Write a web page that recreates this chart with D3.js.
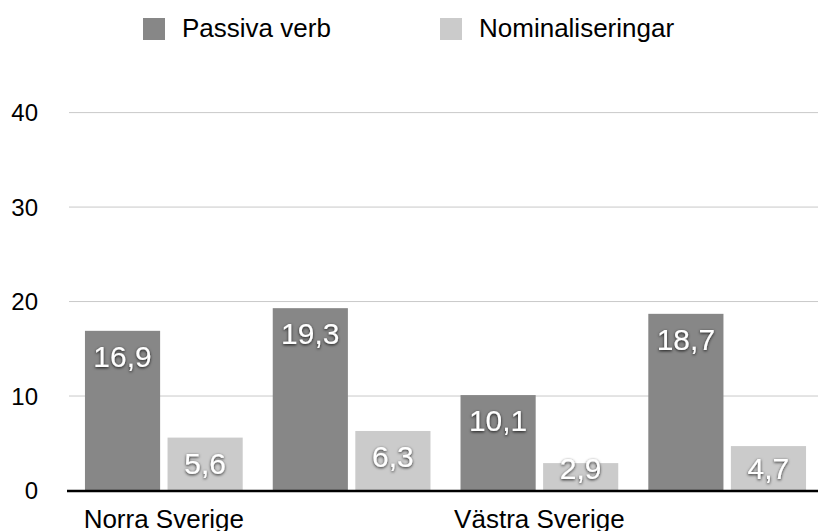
<!DOCTYPE html>
<html>
<head>
<meta charset="utf-8">
<script src="https://cdn.jsdelivr.net/npm/d3@7"></script>
<style>
  body { margin: 0; background: #fff; }
  text { font-family: "Liberation Sans", Arial, Helvetica, sans-serif; }
</style>
</head>
<body>
<script>
var categories = ["Norra Sverige", "Norra Sverige 2", "Västra Sverige", "Västra Sverige 2"];
var tickLabels = ["Norra Sverige", "", "Västra Sverige", ""];
var seriesNames = ["Passiva verb", "Nominaliseringar"];
var passivaVerb = [16.9, 19.3, 10.1, 18.7];
var nominaliseringar = [5.6, 6.3, 2.9, 4.7];
var yTicks = [0, 10, 20, 30, 40];

var width = 818, height = 531;
var colors = ["#878787", "#cbcbcb"];

var svg = d3.select("body").append("svg")
	.attr("width", width)
	.attr("height", height);

var defs = svg.append("defs");
var shadow = defs.append("filter")
	.attr("id", "shadow")
	.attr("x", "-20%").attr("y", "-30%")
	.attr("width", "140%").attr("height", "160%");
shadow.append("feDropShadow")
	.attr("dx", 0).attr("dy", 1)
	.attr("stdDeviation", 1.4)
	.attr("flood-color", "#000")
	.attr("flood-opacity", 0.85);

var y = d3.scaleLinear().domain([0, 40]).range([490.5, 112.6]);
var x = d3.scaleBand().domain(categories).range([69, 822])
	.paddingInner(0.16).paddingOuter(0.085);
var xs = d3.scaleBand().domain([0, 1]).range([0, x.bandwidth()]).paddingInner(0.09);

// gridlines
svg.append("g").selectAll("line")
	.data(yTicks.filter(function(d) { return d > 0; }))
	.enter().append("line")
	.attr("x1", 69).attr("x2", width)
	.attr("y1", function(d) { return y(d); })
	.attr("y2", function(d) { return y(d); })
	.style("stroke", "#c9c9c9")
	.style("stroke-width", 1);

// y axis labels
svg.append("g").selectAll("text")
	.data(yTicks)
	.enter().append("text")
	.attr("x", 38)
	.attr("y", function(d) { return y(d); })
	.attr("dy", "0.36em")
	.attr("text-anchor", "end")
	.style("font-size", "24px")
	.attr("fill", "#000")
	.text(function(d) { return d; });

// bars
var rows = categories.map(function(c, i) {
	return {cat: c, values: [passivaVerb[i], nominaliseringar[i]]};
});

var groups = svg.append("g").selectAll("g")
	.data(rows)
	.enter().append("g")
	.attr("transform", function(d) { return "translate(" + x(d.cat) + ",0)"; });

groups.selectAll("rect")
	.data(function(d) { return d.values; })
	.enter().append("rect")
	.attr("x", function(d, i) { return xs(i); })
	.attr("y", function(d) { return y(d); })
	.attr("width", xs.bandwidth())
	.attr("height", function(d) { return y(0) - y(d); })
	.attr("fill", function(d, i) { return colors[i]; });

groups.selectAll("text")
	.data(function(d) { return d.values; })
	.enter().append("text")
	.attr("x", function(d, i) { return xs(i) + xs.bandwidth() / 2; })
	.attr("y", function(d) { return Math.min(y(d) + 36, y(0) - 12); })
	.attr("text-anchor", "middle")
	.attr("fill", "#fff")
	.attr("filter", "url(#shadow)")
	.style("font-size", "30px")
	.text(function(d) { return String(d).replace(".", ","); });

// x axis line
svg.append("line")
	.attr("x1", 67).attr("x2", width)
	.attr("y1", y(0) + 0.5).attr("y2", y(0) + 0.5)
	.style("stroke", "#000")
	.style("stroke-width", 2.5);

// x labels
svg.append("g").selectAll("text")
	.data(categories)
	.enter().append("text")
	.attr("x", function(d) { return x(d) + x.bandwidth() / 2; })
	.attr("y", 528)
	.attr("text-anchor", "middle")
	.style("font-size", "26px")
	.attr("fill", "#000")
	.text(function(d, i) { return tickLabels[i]; });

// legend
var legendX = [143, 440];
var legend = svg.append("g").selectAll("g")
	.data(seriesNames)
	.enter().append("g")
	.attr("transform", function(d, i) { return "translate(" + legendX[i] + ",18)"; });

legend.append("rect")
	.attr("width", 22).attr("height", 22)
	.attr("fill", function(d, i) { return colors[i]; });

legend.append("text")
	.attr("x", 39).attr("y", 19)
	.style("font-size", "26px")
	.attr("fill", "#000")
	.text(function(d) { return d; });
</script>
</body>
</html>
